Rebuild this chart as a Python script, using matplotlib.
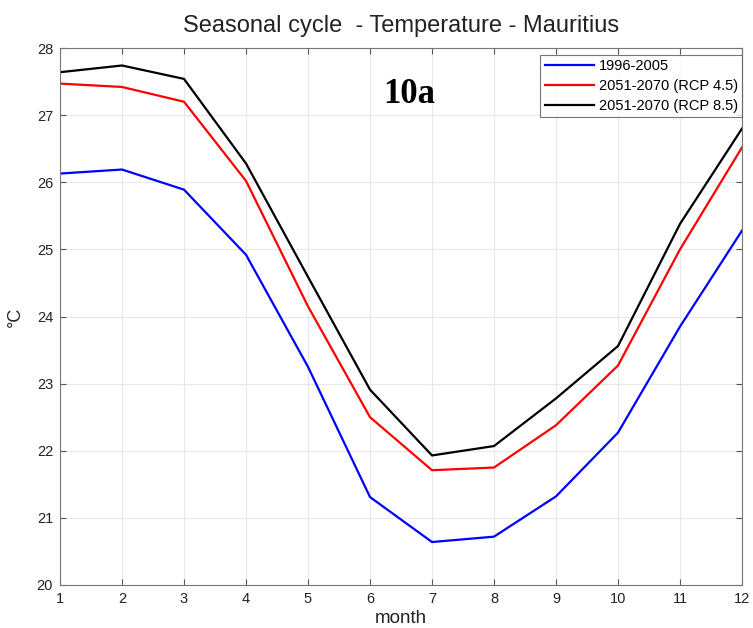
import numpy as np
import matplotlib
matplotlib.use('Agg')
import matplotlib.pyplot as plt

plt.rcParams['font.family'] = ['Liberation Sans', 'DejaVu Sans']

months = np.arange(1, 13)
hist = [26.13, 26.19, 25.89, 24.92, 23.25, 21.31, 20.64, 20.72, 21.32, 22.27, 23.85, 25.28]
rcp45 = [27.47, 27.42, 27.20, 26.02, 24.15, 22.50, 21.71, 21.75, 22.38, 23.27, 25.00, 26.52]
rcp85 = [27.64, 27.74, 27.54, 26.28, 24.59, 22.91, 21.93, 22.07, 22.78, 23.56, 25.38, 26.80]
labels = ['1996-2005', '2051-2070 (RCP 4.5)', '2051-2070 (RCP 8.5)']
colors = ['#0000ff', '#ff0000', '#000000']

fig = plt.figure(figsize=(7.53, 6.28), dpi=100)
ax = fig.add_axes([0.0797, 0.0685, 0.9057, 0.855])

for ys, lab, c in zip([hist, rcp45, rcp85], labels, colors):
    ax.plot(months, ys, color=c, lw=1.6, label=lab)

ax.set_xlim(1, 12)
ax.set_ylim(20, 28)
ax.set_xticks(months)
ax.set_yticks(np.arange(20, 29, 1))
ax.grid(True, color='#e8e8e8', lw=0.8)
ax.tick_params(direction='in', length=4, labelsize=10.5, color='#555555',
               top=True, right=True, pad=5, labelcolor='#222222')
for s in ax.spines.values():
    s.set_color('#777777')

fig.text(0.5325, 0.9586, 'Seasonal cycle  - Temperature - Mauritius',
         fontsize=17, ha='center', va='center', color='#222222')
ax.set_xlabel('month', fontsize=13.5, color='#222222')
ax.xaxis.set_label_coords(0.5, -0.046)
ax.set_ylabel('°C', fontsize=13, color='#222222')
ax.yaxis.set_label_coords(-0.053, 0.5)

ax.text(0.512, 0.914, '10a', transform=ax.transAxes, fontsize=25, fontweight='bold',
        family='Liberation Serif', va='center', ha='center')

leg = ax.legend(loc='upper right', bbox_to_anchor=(1.0, 0.987), fontsize=10.5,
                frameon=True, fancybox=False, borderaxespad=0, handlelength=3.4,
                labelspacing=0.4, borderpad=0.3, handletextpad=0.3)
leg.get_frame().set_edgecolor('#555555')
leg.get_frame().set_linewidth(0.8)

fig.savefig('out.png', dpi=100)
